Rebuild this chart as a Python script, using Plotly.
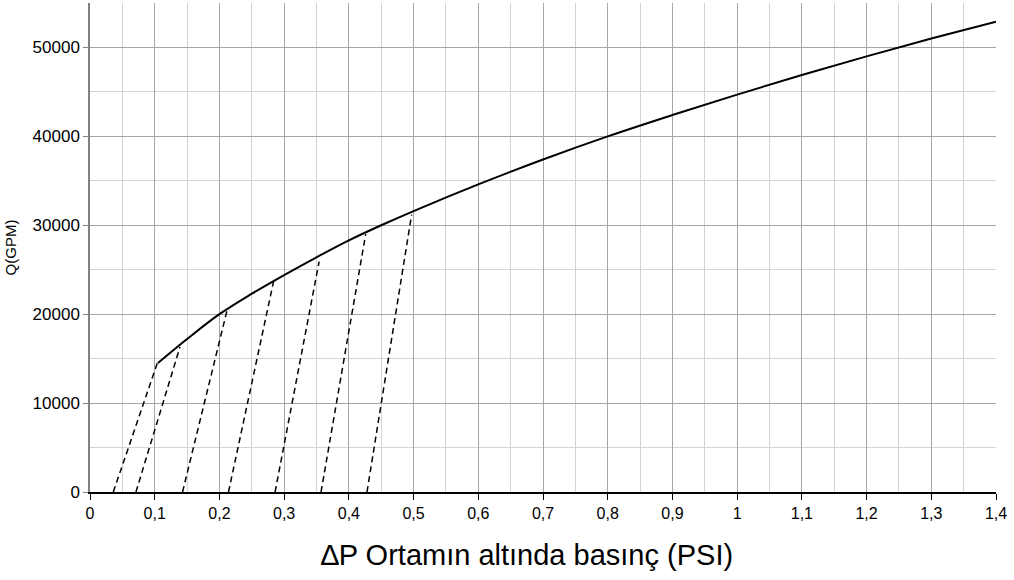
import plotly.graph_objects as go

# main curve: flow vs pressure drop
dp = [0.105, 0.15, 0.2, 0.25, 0.3, 0.35, 0.4, 0.45, 0.5, 0.6, 0.7, 0.8, 0.9, 1.0, 1.1, 1.2, 1.3, 1.4]
q = [14500, 17200, 20000, 22300, 24400, 26400, 28300, 30000, 31600, 34600,
     37400, 40000, 42400, 44700, 46900, 49000, 51000, 52900]

# dashed construction lines: from (start, 0) to (end, top)
dash_start = [0.036, 0.071, 0.143, 0.214, 0.286, 0.357, 0.428]
dash_end = [0.104, 0.139, 0.212, 0.284, 0.354, 0.426, 0.497]
dash_top = [14500, 16300, 20500, 23800, 25900, 29000, 31200]

y_ticks = [0, 10000, 20000, 30000, 40000, 50000]

fig = go.Figure()

for x0, x1, y1 in zip(dash_start, dash_end, dash_top):
    fig.add_trace(go.Scatter(
        x=[x0, x1], y=[0, y1], mode="lines",
        line=dict(color="black", width=1.5, dash="6px,4px"),
        showlegend=False, hoverinfo="skip"
    ))

fig.add_trace(go.Scatter(
    x=dp, y=q, mode="lines",
    line=dict(color="black", width=2, shape="spline"),
    showlegend=False
))

# x title as an annotation: it sits a little left of the plot centre in the original
fig.add_annotation(
    text="∆P Ortamın altında basınç (PSI)",
    xref="paper", yref="paper",
    x=0.482, y=-0.129,
    xanchor="center", yanchor="middle",
    showarrow=False,
    font=dict(size=29),
)

fig.update_layout(
    width=1014,
    height=580,
    margin=dict(l=90, r=18, t=3, b=88),
    plot_bgcolor="white",
    paper_bgcolor="white",
    separators=",.",
    font=dict(family="Liberation Sans, Arial", size=16, color="black"),
    xaxis=dict(
        range=[0, 1.4],
        dtick=0.1,
        tick0=0,
        automargin=False,
        showgrid=True,
        gridcolor="#a6a6a6",
        gridwidth=1,
        minor=dict(dtick=0.05, showgrid=True, gridcolor="#d4d4d4", gridwidth=1),
        showline=True,
        linecolor="black",
        linewidth=2,
        ticks="outside",
        ticklen=6,
        tickcolor="black",
        tickfont=dict(size=16),
        zeroline=False,
    ),
    yaxis=dict(
        range=[0, 55000],
        tickvals=y_ticks,
        ticktext=[str(v) for v in y_ticks],
        automargin=False,
        showgrid=True,
        gridcolor="#a6a6a6",
        gridwidth=1,
        minor=dict(dtick=5000, tick0=0, showgrid=True, gridcolor="#d4d4d4", gridwidth=1),
        showline=True,
        linecolor="#808080",
        linewidth=1.5,
        ticks="outside",
        ticklen=5,
        tickcolor="#808080",
        tickfont=dict(size=17),
        zeroline=False,
        title=dict(text="Q(GPM)", font=dict(size=15), standoff=12),
    ),
)

# drop the browser's default body margin so the figure sits at the window origin
fig.write_html("out.html", config={"displayModeBar": False},
               post_script="document.body.style.margin='0';")
